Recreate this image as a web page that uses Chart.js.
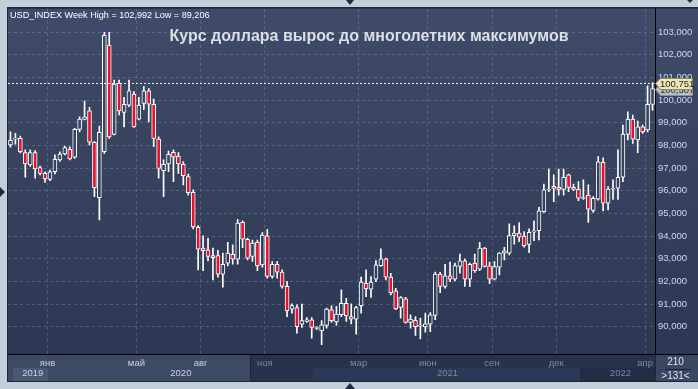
<!DOCTYPE html>
<html><head><meta charset="utf-8">
<script src="https://cdn.jsdelivr.net/npm/chart.js@4"></script>
<style>html,body{margin:0;padding:0;background:#c4cedb;overflow:hidden}canvas{display:block}</style>
</head><body>
<canvas id="c" width="698" height="389"></canvas>
<script>
// ---- data (weekly candles) ----
const openP = [98.02,98.28,98.31,97.68,97.14,97.68,97.02,96.77,96.50,96.84,97.36,97.62,97.83,97.48,98.71,99.15,99.52,98.14,95.70,97.72,
102.42,98.49,100.74,99.46,99.78,100.26,99.16,99.85,100.41,99.81,98.28,96.89,97.18,97.70,97.53,97.17,96.62,95.93,94.39,93.47,
93.39,93.14,93.14,92.32,92.81,93.20,92.98,94.61,93.86,93.10,93.73,92.73,94.01,92.22,92.76,92.41,91.78,90.78,90.85,90.12,
90.24,90.31,89.97,89.82,90.06,90.75,90.21,90.53,91.04,90.45,90.34,90.93,91.92,91.66,92.10,92.70,93.00,92.19,91.59,90.85,
91.23,90.19,90.28,90.03,89.99,90.12,90.50,92.32,91.78,92.25,92.10,92.66,92.91,92.10,92.81,92.54,93.47,92.69,92.10,92.63,
93.25,93.25,94.02,94.13,94.00,93.63,94.17,94.24,95.08,96.04,96.20,96.15,96.06,96.70,96.15,96.06,95.70,95.81,95.13,95.63,
97.25,95.45,96.07,96.11,96.60,98.49,99.16,98.24,98.82,98.68,99.81];
const highP = [98.60,98.53,98.41,97.80,97.80,97.77,97.09,96.84,96.91,97.58,97.72,97.97,97.94,98.75,99.26,99.96,99.68,98.17,98.85,102.99,
102.99,100.88,100.88,100.12,100.88,100.37,100.12,100.59,100.51,100.04,98.38,97.36,97.75,97.80,97.68,97.29,96.74,96.04,94.46,94.01,
93.90,93.47,93.37,93.25,93.72,93.61,94.74,94.67,93.91,93.83,93.83,94.16,94.30,92.88,92.88,92.51,92.00,91.01,90.97,91.00,
90.41,90.41,90.01,90.27,90.82,90.93,90.90,91.63,91.26,91.01,90.90,92.19,92.51,92.22,92.92,93.44,93.03,92.36,91.70,91.33,
91.30,90.53,90.45,90.38,90.60,90.63,92.41,92.40,92.76,92.85,92.81,93.21,92.99,92.81,93.21,93.73,93.51,92.85,92.88,93.27,
93.51,94.54,94.45,94.60,94.20,94.32,94.67,95.27,96.30,96.96,96.70,96.96,96.96,96.74,96.30,96.40,96.48,96.26,95.74,97.51,
97.45,96.18,96.48,97.80,98.90,99.48,99.34,99.07,98.90,100.63,100.76];
const lowP = [97.92,98.06,97.67,96.60,97.07,96.55,96.70,96.37,96.45,96.74,97.29,97.58,97.36,97.43,98.60,99.12,98.02,95.74,94.71,97.65,
98.31,98.46,99.34,98.82,99.71,98.79,99.12,99.59,99.04,97.94,96.55,95.74,96.84,96.40,96.77,96.26,95.81,94.32,92.51,92.48,
92.91,92.07,92.19,91.75,92.69,92.76,92.76,93.49,92.95,92.88,92.48,92.63,92.15,92.15,92.15,91.70,90.45,90.60,89.72,89.97,
90.19,89.50,89.87,89.21,89.94,90.19,90.06,90.45,90.24,90.13,89.68,90.60,91.33,91.30,91.99,92.66,92.07,91.41,90.75,90.38,
90.16,89.94,89.62,89.47,89.76,89.79,90.31,91.51,91.70,91.99,92.02,92.37,91.78,91.78,92.40,92.48,92.63,91.90,92.07,92.29,
92.95,93.17,93.64,93.76,93.51,93.27,93.80,93.83,95.04,95.96,95.52,95.81,95.81,95.96,96.00,95.56,95.62,94.60,95.04,95.59,
95.11,95.15,95.62,95.62,96.40,98.24,98.09,97.68,98.53,98.60,99.56];
const closeP = [98.24,98.32,97.72,97.18,97.68,96.96,96.77,96.52,96.84,97.39,97.62,97.90,97.40,98.71,99.16,99.26,98.14,96.14,98.58,102.86,
98.38,100.70,99.52,99.81,100.41,98.82,99.78,100.41,99.82,98.31,96.99,97.17,97.61,97.48,97.18,96.67,95.92,94.42,93.42,93.36,
93.10,93.05,92.32,92.76,93.25,92.98,94.57,93.86,93.03,93.69,92.70,94.05,92.22,92.76,92.41,91.78,90.70,90.94,90.01,90.27,
90.31,89.97,89.93,90.09,90.78,90.27,90.56,91.04,90.48,90.34,90.85,91.97,91.67,91.97,92.73,93.00,92.19,91.51,90.79,91.29,
90.19,90.34,90.01,90.06,90.13,90.53,92.32,91.78,92.25,92.10,92.70,92.91,92.10,92.76,92.48,93.47,92.66,92.10,92.66,93.25,
93.35,94.02,94.13,93.95,93.58,94.17,94.23,95.11,96.04,96.07,96.10,96.06,96.59,96.15,96.06,95.67,95.66,95.19,95.67,97.28,
95.45,96.07,96.11,96.59,98.50,99.16,98.27,98.82,98.60,99.81,100.51];
const monthTickIdx   = [8, 26, 39, 52, 71, 85, 98, 111, 129];
const monthTickNames = ['янв','май','авг','ноя','мар','июн','сен','дек','апр'];
const yearTickIdx    = [5, 35, 89, 124];
const yearTickNames  = ['2019','2020','2021','2022'];
const yTickValues    = [90,91,92,93,94,95,96,97,98,99,100,101,102,103];
const lastPrice = 100.751;
const closeTag  = 100.507;
const headerText = 'USD_INDEX Week High = 102,992 Low = 89,206';
const titleText  = 'Курс доллара вырос до многолетних максимумов';
const barsInfo   = ['210', '>131<'];

// ---- styles ----
const FONT = "'Liberation Sans', Arial, sans-serif";
const RED = '#e3132f';
const GRID = 'rgba(150,168,205,0.33)';
const LIGHT = '#c6d3ea';
const DIM = '#7a88a3';
let grad = null;
function plotGrad(ctx){
  if(!grad){ grad = ctx.createLinearGradient(0, 8, 0, 354);
    grad.addColorStop(0, '#3f4b68'); grad.addColorStop(1, '#2c3853'); }
  return grad;
}
const weeks = openP.map((_, i) => String(i));

const frame = {
  id: 'frame',
  beforeDraw(chart){
    const c = chart.ctx, a = chart.chartArea;
    c.save();
    c.fillStyle = '#c4cedb'; c.fillRect(0, 0, 698, 389);
    c.fillStyle = '#1f2638'; c.fillRect(7, 7, 691, 375);
    c.fillStyle = plotGrad(c);
    c.fillRect(a.left, a.top, 698 - a.left, a.bottom - a.top);
    // bottom strip
    const sy = a.bottom + 1, sh = 381 - sy;
    c.fillStyle = '#3d4a65'; c.fillRect(a.left, sy, 250 - a.left, sh);
    c.fillStyle = '#27334e'; c.fillRect(251, sy, a.right - 251, sh);
    c.fillStyle = '#2c3956'; c.fillRect(313, sy + 13, 267, sh - 13);
    c.fillStyle = '#222c45'; c.fillRect(580, sy + 13, a.right - 580, sh - 13);
    c.fillStyle = '#4a5876'; c.fillRect(13, sy + 13, 35, sh - 13);
    c.fillStyle = '#1c2436'; c.fillRect(250, sy, 1, sh);
    // bottom right box
    c.fillStyle = '#3a4763'; c.fillRect(a.right + 1, sy, 698 - a.right - 1, sh);
    // arrows
    c.fillStyle = '#1e2a3e';
    c.beginPath(); c.moveTo(346, 0); c.lineTo(354, 0); c.lineTo(350, 5); c.fill();
    c.beginPath(); c.moveTo(345, 389); c.lineTo(355, 389); c.lineTo(350, 383); c.fill();
    c.beginPath(); c.moveTo(0, 187); c.lineTo(5, 192); c.lineTo(0, 197); c.fill();
    c.beginPath(); c.moveTo(687, 0); c.lineTo(693, 0); c.lineTo(690, 3); c.fill();
    c.restore();
  },
  afterDatasetsDraw(chart){
    const c = chart.ctx, a = chart.chartArea, ys = chart.scales.y;
    c.save();
    const py = Math.round(ys.getPixelForValue(lastPrice)) + 0.5;
    c.strokeStyle = 'rgba(255,255,255,0.9)'; c.lineWidth = 1; c.setLineDash([2, 2]);
    c.beginPath(); c.moveTo(a.left, py); c.lineTo(a.right, py); c.stroke();
    c.setLineDash([]);
    c.fillStyle = '#ffffff'; c.font = '9.1px ' + FONT; c.textBaseline = 'middle'; c.textAlign = 'left';
    c.fillText(headerText, 10, 15);
    c.fillStyle = '#dcdfe6'; c.font = 'bold 16px ' + FONT; c.textAlign = 'center';
    c.fillText(titleText, 369, 37);
    c.restore();
  },
  afterDraw(chart){
    const c = chart.ctx, a = chart.chartArea, ys = chart.scales.y;
    c.save();
    c.fillStyle = '#000'; c.fillRect(a.right, a.bottom, 698 - a.right, 1);
    function tag(v, fill, stroke, txt, tcol){
      const y = Math.round(ys.getPixelForValue(v)) + 0.5;
      c.beginPath(); c.moveTo(a.right + 0.5, y); c.lineTo(a.right + 5.5, y - 5); c.lineTo(692.5, y - 5);
      c.lineTo(692.5, y + 6); c.lineTo(a.right + 5.5, y + 6); c.closePath();
      c.fillStyle = fill; c.fill(); c.strokeStyle = stroke; c.lineWidth = 1; c.stroke();
      c.fillStyle = tcol; c.font = '9.5px ' + FONT; c.textAlign = 'left'; c.textBaseline = 'middle';
      c.fillText(txt, a.right + 5, y + 1);
    }
    tag(closeTag, '#b9bec8', '#8a909c', closeTag.toFixed(3).replace('.', ','), '#2a2f3a');
    tag(lastPrice, '#efe6b4', '#8f8966', lastPrice.toFixed(3).replace('.', ','), '#1a1c26');
    // bar count box
    const cx = (a.right + 698) / 2;
    c.fillStyle = '#dfe6f2'; c.font = '10px ' + FONT; c.textAlign = 'center'; c.textBaseline = 'middle';
    c.fillText(barsInfo[0], cx - 1, 362);
    c.fillStyle = '#1c2436'; c.fillRect(a.right + 10, 369, 26, 1);
    c.fillStyle = '#dfe6f2'; c.fillText(barsInfo[1], cx - 1, 376);
    c.restore();
  }
};

new Chart(document.getElementById('c'), {
  type: 'bar',
  data: {
    labels: weeks,
    datasets: [
      { label: 'wick', data: lowP.map((l, i) => [l, highP[i]]), backgroundColor: '#ffffff',
        borderWidth: 0, barThickness: 1, grouped: false, order: 2 },
      { label: 'body', data: openP.map((o, i) => [o, closeP[i]]),
        backgroundColor: ctx => closeP[ctx.dataIndex] < openP[ctx.dataIndex] ? RED : plotGrad(ctx.chart.ctx),
        borderColor: '#ffffff', borderWidth: 1, borderSkipped: false, barThickness: 4, grouped: false, order: 1 }
    ]
  },
  options: {
    responsive: false, animation: false, events: [],
    layout: { padding: { left: 8, top: 8, right: 0, bottom: 8 } },
    plugins: { legend: { display: false }, tooltip: { enabled: false }, title: { display: false } },
    scales: {
      x: {
        type: 'category', offset: true,
        grid: { offset: true, drawTicks: false, lineWidth: 1,
          color: c => monthTickIdx.includes(c.index) ? GRID : 'rgba(0,0,0,0)' },
        border: { display: true, color: '#000000', width: 1, dash: [3, 3] },
        ticks: { autoSkip: false, maxRotation: 0, minRotation: 0, padding: 4, labelOffset: -2.47,
          color: c => (c.index < 45 ? LIGHT : DIM),
          font: { family: FONT, size: 9.5, lineHeight: 1.1 },
          callback: (v, i) => {
            const m = monthTickIdx.indexOf(i), y = yearTickIdx.indexOf(i);
            if (m >= 0) return [monthTickNames[m], ''];
            if (y >= 0) return ['', yearTickNames[y]];
            return '';
          } },
        afterFit: s => { s.height = 27; }
      },
      y: {
        position: 'right', min: 88.80, max: 104.03,
        afterBuildTicks: s => { s.ticks = yTickValues.map(v => ({ value: v })); },
        grid: { color: GRID, drawTicks: false, lineWidth: 1 },
        border: { display: true, color: '#000000', width: 1, dash: [3, 3] },
        ticks: { padding: 3, color: '#cbdaf0', font: { family: FONT, size: 9.5 },
          callback: v => Number(v).toFixed(3).replace('.', ',') },
        afterFit: s => { s.width = 43; }
      }
    }
  },
  plugins: [frame]
});
</script>
</body></html>
